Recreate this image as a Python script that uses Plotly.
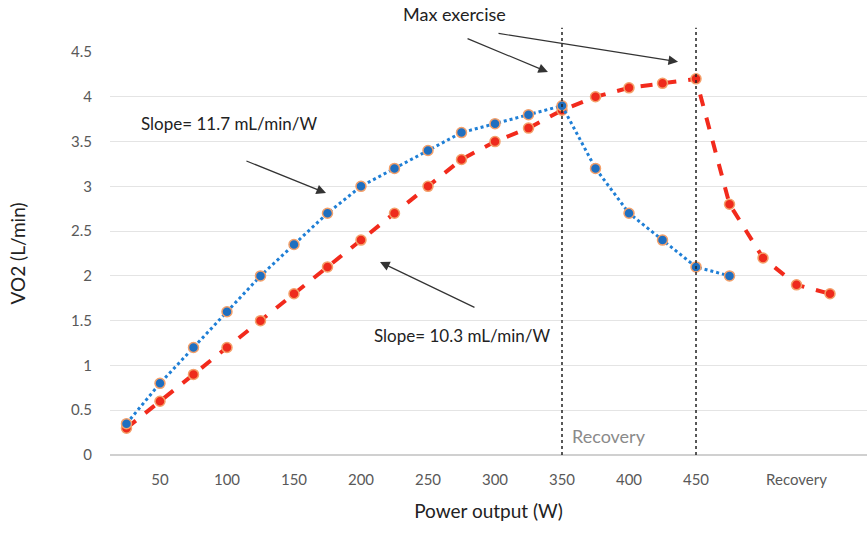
import plotly.graph_objects as go

# Data
power_blue = [25, 50, 75, 100, 125, 150, 175, 200, 225, 250, 275, 300, 325, 350, 375, 400, 425, 450, 475]
vo2_blue = [0.35, 0.8, 1.2, 1.6, 2.0, 2.35, 2.7, 3.0, 3.2, 3.4, 3.6, 3.7, 3.8, 3.9, 3.2, 2.7, 2.4, 2.1, 2.0]

power_red = [25, 50, 75, 100, 125, 150, 175, 200, 225, 250, 275, 300, 325, 350, 375, 400, 425, 450, 475, 500, 525, 550]
vo2_red = [0.3, 0.6, 0.9, 1.2, 1.5, 1.8, 2.1, 2.4, 2.7, 3.0, 3.3, 3.5, 3.65, 3.85, 4.0, 4.1, 4.15, 4.2, 2.8, 2.2, 1.9, 1.8]

x_tickvals = [50, 100, 150, 200, 250, 300, 350, 400, 450, 525]
x_ticktext = ["50", "100", "150", "200", "250", "300", "350", "400", "450", "Recovery"]
y_tickvals = [0, 0.5, 1, 1.5, 2, 2.5, 3, 3.5, 4, 4.5]
y_ticktext = ["0", "0.5", "1", "1.5", "2", "2.5", "3", "3.5", "4", "4.5"]
max_exercise_lines = [350, 450]

FONT = "Lato"

fig = go.Figure()

fig.add_trace(go.Scatter(
    x=power_red, y=vo2_red, mode="lines+markers",
    line=dict(color="#f22a1c", width=4, dash="dash"),
    marker=dict(size=10, color="#ee2a1c", line=dict(color="#f4a06a", width=1.5)),
    showlegend=False,
))
fig.add_trace(go.Scatter(
    x=power_blue, y=vo2_blue, mode="lines+markers",
    line=dict(color="#1f7fd6", width=3, dash="dot"),
    marker=dict(size=10, color="#1f6fc0", line=dict(color="#f4a06a", width=1.5)),
    showlegend=False,
))

for xv in max_exercise_lines:
    fig.add_shape(type="line", xref="x", yref="paper", x0=xv, x1=xv, y0=0, y1=1.06,
                  line=dict(color="#222222", width=1.5, dash="dot"))

def arrow(tx, ty, hx, hy):
    fig.add_annotation(x=hx, y=hy, ax=tx, ay=ty, xref="x", yref="y", axref="x", ayref="y",
                       text="", showarrow=True, arrowhead=2, arrowsize=1.6, arrowwidth=1.2,
                       arrowcolor="#333333")

arrow(278.4, 4.656, 339.5, 4.276)
arrow(301.5, 4.71, 436.6, 4.39)
arrow(113.4, 3.29, 173.9, 2.925)
arrow(285.8, 1.64, 214.2, 2.155)

fig.add_annotation(x=0.4557, y=1.094, xref="paper", yref="paper", xanchor="center", yanchor="middle",
                   text="Max exercise", showarrow=False,
                   font=dict(family=FONT, size=18, color="#222222"))
fig.add_annotation(x=101.5, y=3.70, xref="x", yref="y", text="Slope= 11.7 mL/min/W", showarrow=False,
                   font=dict(family=FONT, size=17, color="#222222"))
fig.add_annotation(x=275, y=1.34, xref="x", yref="y", text="Slope= 10.3 mL/min/W", showarrow=False,
                   font=dict(family=FONT, size=17, color="#222222"))
fig.add_annotation(x=385, y=0.21, xref="x", yref="y", text="Recovery", showarrow=False,
                   font=dict(family=FONT, size=18, color="#8a8a8a"))

fig.update_layout(
    width=867, height=543,
    margin=dict(l=110, r=0, t=52, b=88),
    plot_bgcolor="white", paper_bgcolor="white",
    font=dict(family=FONT, color="#595959", size=15),
    xaxis=dict(range=[12.7, 577.6], tickvals=x_tickvals, ticktext=x_ticktext,
               showgrid=False, zeroline=False, showline=False, ticks="",
               ticklabelstandoff=14,
               title=dict(text="Power output (W)", font=dict(family=FONT, size=19, color="#222222"),
                          standoff=17)),
    yaxis=dict(range=[0, 4.5], tickvals=y_tickvals, ticktext=y_ticktext,
               showgrid=True, gridcolor="#e4e4e4", gridwidth=1, zeroline=True,
               zerolinecolor="#d0d0d0", showline=False, ticks="",
               ticklabelstandoff=17,
               title=dict(text="VO2 (L/min)", font=dict(family=FONT, size=19, color="#222222"),
                          standoff=40)),
)

fig.write_html("out.html", config={"displayModeBar": False},
               post_script="document.body.style.margin='0px';")
